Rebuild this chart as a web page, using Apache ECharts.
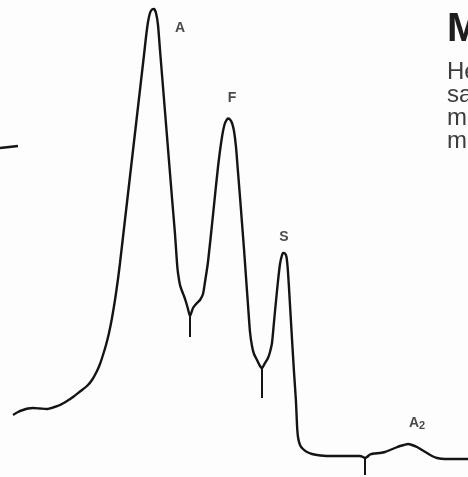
<!DOCTYPE html>
<html>
<head>
<meta charset="utf-8">
<script src="https://cdn.jsdelivr.net/npm/echarts@6/dist/echarts.min.js"></script>
<style>
html,body{margin:0;padding:0;background:#fdfdfd;}
#chart{width:468px;height:477px;}
</style>
</head>
<body>
<div id="chart"></div>
<script>
// Densitometer trace: migration position and optical density (arbitrary units)
const traceX = [13,18,23,28,33,40,47,53,60,67,73,80,87,92,97,100,103,106,109,112,115,118,120,123,126,129,132,135,138,141,144,146,148,150,152,154,156,158,160,163,166,169,172,175,177,178,180,182,184,186,188,190,193,197,200,203,205,208,213,218,222,225,228,230,232,234,236,238,240,242,244,246,248,250,252,254,257,260,262,265,268,270,272,274,276,278,280,281.5,283,285,286.5,288,290,292,294,296,297,298,300,303,307,312,317,328,340,350,357,360,363,365,367,370,374,380,385,390,395,400,404,408,412,417,422,427,432,437,445,455,468];
const traceH = [62,65,67,68.5,69,68.5,68,69.5,72,76,80,85.5,91,97,106,113,122,132,144,159,177,198,214,240,266,292,318,344,370,396,422,440,455,464,467.5,468,464,452,427,390,353,316,279,243,214,204,192,186,181,175,168,161,169,174,177,183,195,215,262,310,340,354,358.5,357.5,354,346,330,305,280,254,228,200,172,145,131,123,117,111,109,114,119,125,134,155,176,196,213,220,224,223.5,220,205,172,138,105,75,52,40,32,28,25,23,22,21,21,21,21,21,20,19,20,22.5,23.5,24,25,27,29,31,32,33,32,30,27,24,21,19,18,18,18];
// Valley marker ticks: position, top and bottom density
const tickX = [190, 262, 365];
const tickTop = [161, 109, 19];
const tickBottom = [140, 79, 2];
// Start marker at the left edge
const markerX = [0, 18];
const markerH = [329, 331];
// Peak (fraction) labels
const peakNames = ['A', 'F', 'S', 'A{s|2}'];
const peakX = [180, 232, 284, 417];
const peakH = [449, 379, 240, 54];
// Side text fragments (cut off by the page edge)
const headText = 'M';
const bodyLines = ['He', 'sa', 'm', 'm'];

const chart = echarts.init(document.getElementById('chart'), null, {renderer: 'canvas'});
const trace = traceX.map((x, i) => [x, traceH[i]]);
const marker = markerX.map((x, i) => [x, markerH[i]]);
const peaks = peakX.map((x, i) => ({value: [x, peakH[i]], name: peakNames[i]}));
const ink = '#141414';
const lbl = 'Liberation Sans, Arial, sans-serif';

const series = [
  {
    type: 'line', data: trace, showSymbol: false, smooth: 0.2,
    lineStyle: {color: ink, width: 2.4}
  },
  {
    type: 'line', data: marker, showSymbol: false,
    lineStyle: {color: ink, width: 2.4}
  },
  {
    type: 'scatter', data: peaks, symbolSize: 1,
    itemStyle: {color: 'rgba(0,0,0,0)'},
    label: {
      show: true, position: 'inside',
      formatter: p => p.name,
      fontFamily: lbl, fontWeight: 'bold',
      fontSize: 14, color: '#1a1a1a',
      rich: {s: {fontSize: 11, fontWeight: 'bold', color: '#1a1a1a', fontFamily: lbl, verticalAlign: 'bottom', padding: [6, 0, 0, 0]}}
    }
  }
];
tickX.forEach((x, i) => {
  series.push({
    type: 'line', data: [[x, tickTop[i]], [x, tickBottom[i]]], showSymbol: false,
    lineStyle: {color: ink, width: 2}
  });
});

chart.setOption({
  backgroundColor: '#fdfdfd',
  animation: false,
  grid: {left: 0, right: 0, top: 0, bottom: 0},
  xAxis: {type: 'value', min: 0, max: 468, show: false},
  yAxis: {type: 'value', min: 0, max: 477, show: false},
  series: series,
  graphic: [
    {type: 'text', left: 447, top: 10, style: {text: headText, font: 'bold 40px "Liberation Sans", Arial, sans-serif', fill: '#1e1e1e'}},
    {type: 'text', left: 447, top: 60, style: {text: bodyLines.join('\n'), font: '24px "Liberation Sans", Arial, sans-serif', lineHeight: 23, fill: '#3c3c3c'}}
  ]
});
</script>
</body>
</html>
